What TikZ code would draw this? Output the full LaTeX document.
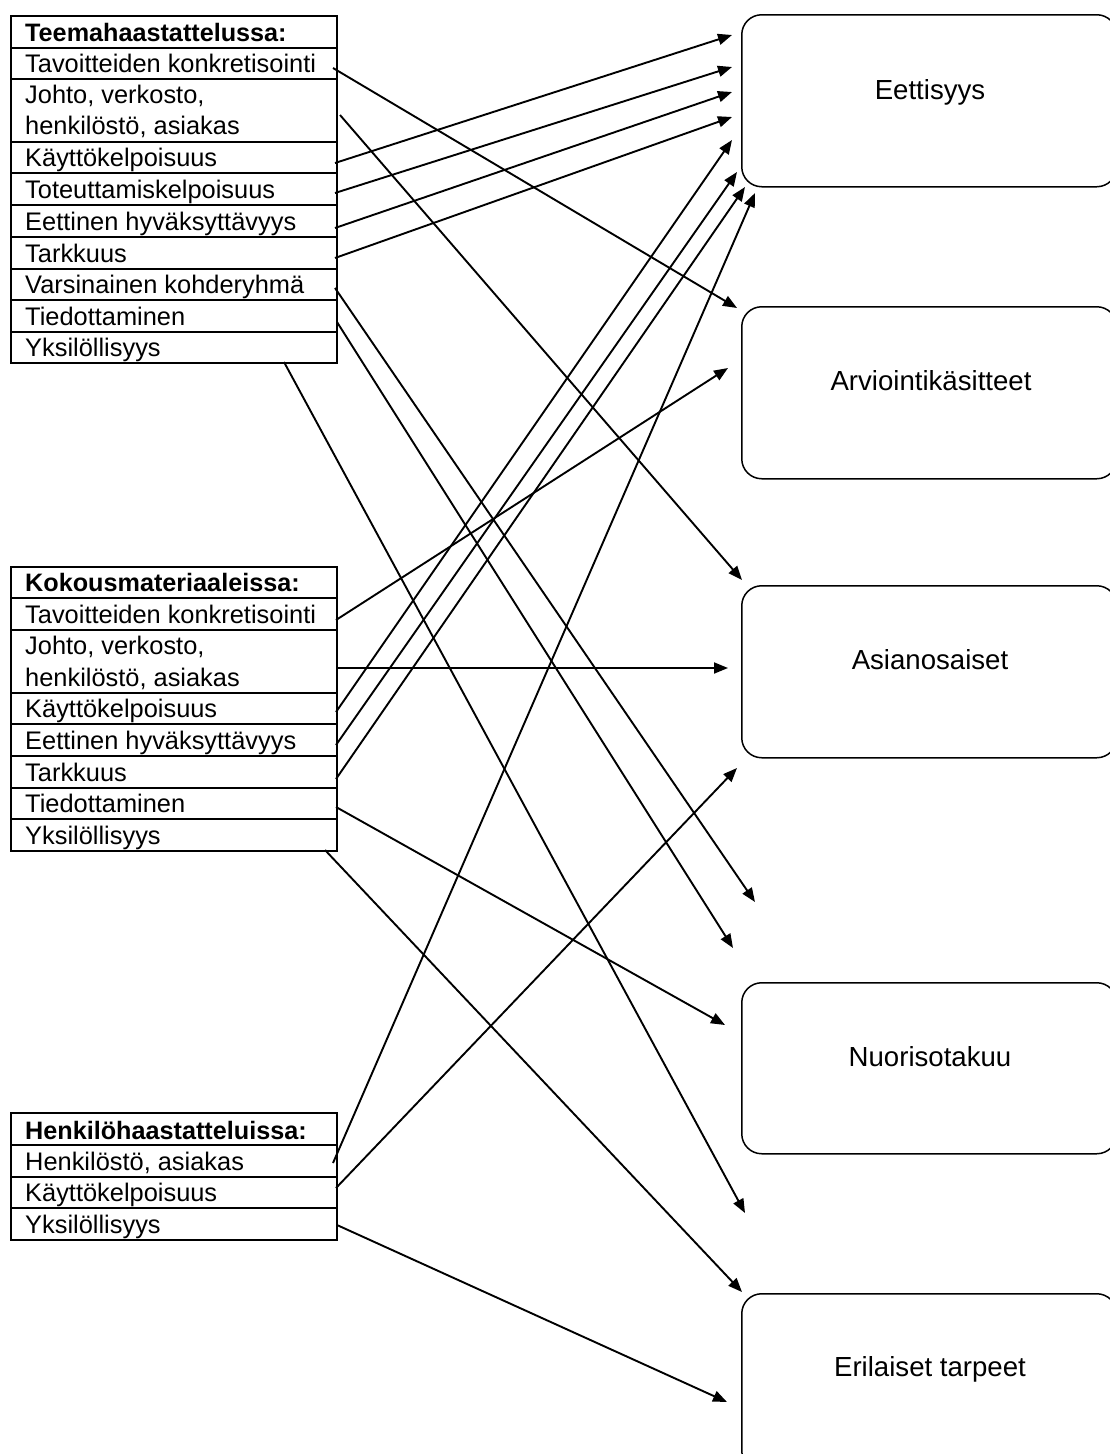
\documentclass[tikz,border=0pt]{standalone}
\usepackage{fontspec}
\setmainfont{Liberation Sans}
\usetikzlibrary{arrows.meta}
\begin{document}
\begin{tikzpicture}[x=1pt,y=-1pt,
  grid/.style={line width=1.2pt},
  item/.style={anchor=base west, inner sep=0pt, font=\fontsize{25.4}{31}\selectfont},
  head/.style={anchor=base west, inner sep=0pt, font=\fontsize{25.2}{31}\selectfont\bfseries},
  rbox/.style={draw, line width=1.5pt, rounded corners=20pt, anchor=north west, inner sep=0pt, minimum width=375pt},
  rtext/.style={anchor=base, inner sep=0pt, font=\fontsize{27.6}{33}\selectfont},
  conn/.style={line width=1.9pt, -{Triangle[length=14pt,width=11pt]}}
]
\useasboundingbox (0,0) rectangle (1109,1454);
\fill[white] (0,0) rectangle (1109,1454);

% ---- left list 1
\draw[grid] (11,16) rectangle (337,363);
\foreach \y in {48,79,142,173,205,237,269,300,332} \draw[grid] (11,\y) -- (337,\y);
\node[head] (t0) at (25,41) {Teemahaastattelussa:};
\node[item] (t1) at (25,72) {Tavoitteiden konkretisointi};
\node[item] (t2a) at (25,103) {Johto, verkosto,};
\node[item] (t2b) at (25,134) {henkilöstö, asiakas};
\node[item] (t3) at (25,166) {Käyttökelpoisuus};
\node[item] (t4) at (25,198) {Toteuttamiskelpoisuus};
\node[item] (t5) at (25,230) {Eettinen hyväksyttävyys};
\node[item] (t6) at (25,262) {Tarkkuus};
\node[item] (t7) at (25,293) {Varsinainen kohderyhmä};
\node[item] (t8) at (25,325) {Tiedottaminen};
\node[item] (t9) at (25,356) {Yksilöllisyys};

% ---- left list 2
\draw[grid] (11,567) rectangle (337,851);
\foreach \y in {598,630,693,724,756,788,819} \draw[grid] (11,\y) -- (337,\y);
\node[head] (k0) at (25,591) {Kokousmateriaaleissa:};
\node[item] (k1) at (25,623) {Tavoitteiden konkretisointi};
\node[item] (k2a) at (25,654) {Johto, verkosto,};
\node[item] (k2b) at (25,686) {henkilöstö, asiakas};
\node[item] (k3) at (25,717) {Käyttökelpoisuus};
\node[item] (k4) at (25,749) {Eettinen hyväksyttävyys};
\node[item] (k5) at (25,781) {Tarkkuus};
\node[item] (k6) at (25,812) {Tiedottaminen};
\node[item] (k7) at (25,844) {Yksilöllisyys};

% ---- left list 3
\draw[grid] (11,1113) rectangle (337,1240);
\foreach \y in {1145,1177,1208} \draw[grid] (11,\y) -- (337,\y);
\node[head] (h0) at (25,1139) {Henkilöhaastatteluissa:};
\node[item] (h1) at (25,1170) {Henkilöstö, asiakas};
\node[item] (h2) at (25,1201) {Käyttökelpoisuus};
\node[item] (h3) at (25,1233) {Yksilöllisyys};

% ---- right boxes
\node[rbox, minimum height=172pt] (eett) at (741,14) {};
\node[rtext] (eettT) at (930,99) {Eettisyys};
\node[rbox, minimum height=172pt] (arvio) at (741,306) {};
\node[rtext] (arvioT) at (931,390) {Arviointikäsitteet};
\node[rbox, minimum height=172pt] (asian) at (741,585) {};
\node[rtext] (asianT) at (930,669) {Asianosaiset};
\node[rbox, minimum height=171pt] (nuori) at (741,982) {};
\node[rtext] (nuoriT) at (930,1066) {Nuorisotakuu};
\node[rbox, minimum height=177pt] (eril) at (741,1293) {};
\node[rtext] (erilT) at (930,1376) {Erilaiset tarpeet};

% ---- connector end points
\coordinate (a1) at (333,68);  \coordinate (b1) at (737,308);
\coordinate (a2) at (340,115); \coordinate (b2) at (742,580);
\coordinate (a3) at (335,163); \coordinate (b3) at (732,35);
\coordinate (a4) at (335,193); \coordinate (b4) at (732,67);
\coordinate (a5) at (335,228); \coordinate (b5) at (732,92);
\coordinate (a6) at (335,258); \coordinate (b6) at (732,117);
\coordinate (a7) at (335,288); \coordinate (b7) at (755,902);
\coordinate (a8) at (337,322); \coordinate (b8) at (733,948);
\coordinate (a9) at (284,362); \coordinate (b9) at (745,1213);
\coordinate (c1) at (336,620); \coordinate (d1) at (728,368);
\coordinate (c2) at (336,668); \coordinate (d2) at (728,668);
\coordinate (c3) at (336,712); \coordinate (d3) at (732,140);
\coordinate (c4) at (336,745); \coordinate (d4) at (737,172);
\coordinate (c5) at (336,779); \coordinate (d5) at (745,187);
\coordinate (c6) at (336,807); \coordinate (d6) at (725,1025);
\coordinate (c7) at (325,850); \coordinate (d7) at (742,1292);
\coordinate (e1) at (333,1163); \coordinate (f1) at (755,193);
\coordinate (e2) at (336,1188); \coordinate (f2) at (737,768);
\coordinate (e3) at (337,1225); \coordinate (f3) at (727,1402);

\foreach \s/\t in {a1/b1,a2/b2,a3/b3,a4/b4,a5/b5,a6/b6,a7/b7,a8/b8,a9/b9,
  c1/d1,c2/d2,c3/d3,c4/d4,c5/d5,c6/d6,c7/d7,e1/f1,e2/f2,e3/f3}
  \draw[conn] (\s) -- (\t);
\end{tikzpicture}
\end{document}
